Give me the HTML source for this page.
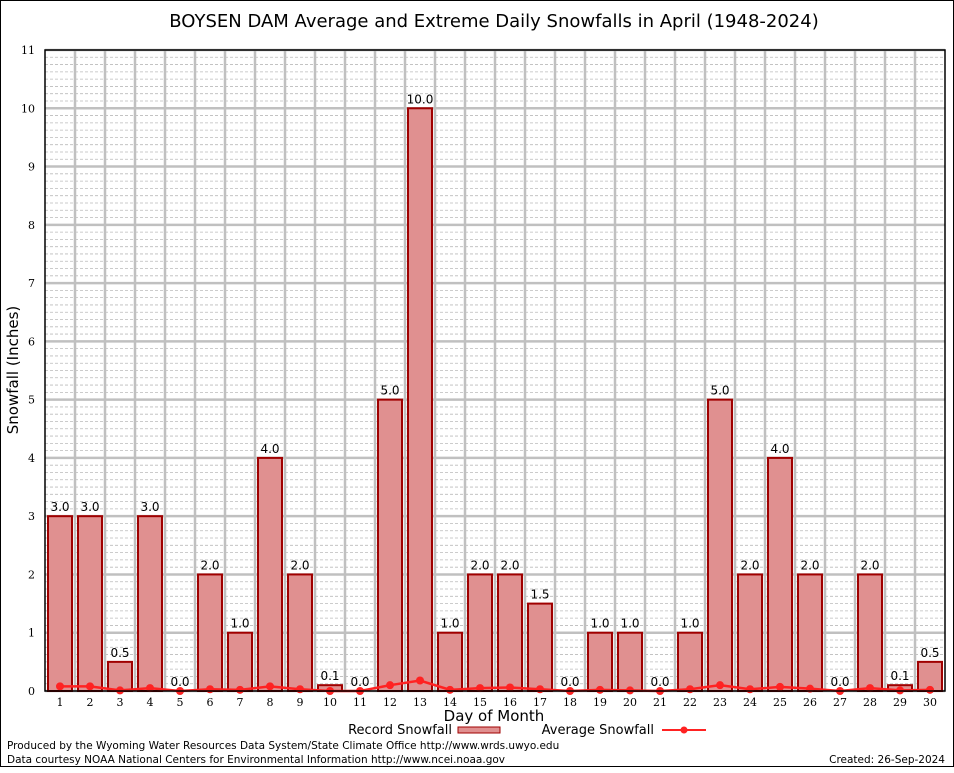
<!DOCTYPE html>
<html><head><meta charset="utf-8"><style>
body{margin:0;background:#fff}
svg text{font-family:"DejaVu Sans","Liberation Sans",sans-serif}
.tk{font-family:"DejaVu Serif","Liberation Serif",serif;font-size:11px}
</style></head><body>
<svg id="c" width="954" height="768" xmlns="http://www.w3.org/2000/svg">
<rect x="0.5" y="0.5" width="953" height="766" fill="#fff" stroke="#000"/>
<text x="494" y="27" text-anchor="middle" font-size="18">BOYSEN DAM Average and Extreme Daily Snowfalls in April (1948-2024)</text>
<g id="grid"></g>
<g id="bars"></g>
<g id="avg"></g>
<g id="axes"></g>
<text x="18" y="370" text-anchor="middle" font-size="15" transform="rotate(-90 18 370)">Snowfall (Inches)</text>
<text x="494" y="721" text-anchor="middle" font-size="15">Day of Month</text>
<g>
<text x="452" y="734" text-anchor="end" font-size="13">Record Snowfall</text>
<rect x="458" y="727" width="42" height="6" fill="#e09090" stroke="#a00000"/>
<text x="654" y="734" text-anchor="end" font-size="13">Average Snowfall</text>
<line x1="662" y1="730" x2="706" y2="730" stroke="#f22" stroke-width="2"/>
<circle cx="684" cy="730" r="3.5" fill="#f22"/>
</g>
<text x="7" y="749" font-size="10.5">Produced by the Wyoming Water Resources Data System/State Climate Office http://www.wrds.uwyo.edu</text>
<text x="7" y="763" font-size="10.5">Data courtesy NOAA National Centers for Environmental Information http://www.ncei.noaa.gov</text>
<text x="945" y="763" text-anchor="end" font-size="10.5">Created: 26-Sep-2024</text>
</svg>
<script>
const days=[1,2,3,4,5,6,7,8,9,10,11,12,13,14,15,16,17,18,19,20,21,22,23,24,25,26,27,28,29,30];
const record=[3,3,0.5,3,0,2,1,4,2,0.1,0,5,10,1,2,2,1.5,0,1,1,0,1,5,2,4,2,0,2,0.1,0.5];
const average=[0.08,0.08,0.01,0.05,0,0.03,0.02,0.08,0.03,0,0,0.1,0.18,0.02,0.05,0.06,0.03,0,0.02,0.01,0,0.03,0.1,0.03,0.07,0.04,0,0.05,0.01,0.02];
const yTicks=[0,1,2,3,4,5,6,7,8,9,10,11];
const NS="http://www.w3.org/2000/svg";
const L=45,R=945,T=50,B=691,YMAX=11;
const xs=d=>L+(d-0.5)*(R-L)/30;
const ys=v=>B-v*(B-T)/YMAX;
function mk(t,a,p){const e=document.createElementNS(NS,t);for(const k in a)e.setAttribute(k,a[k]);p.appendChild(e);return e;}
const grid=document.getElementById('grid'),bars=document.getElementById('bars'),avg=document.getElementById('avg'),axes=document.getElementById('axes');
for(let v=0;v<YMAX;v+=0.125){if(Math.abs(v-Math.round(v))<1e-6)continue;
const l=mk('line',{x1:L,x2:R,y1:ys(v),y2:ys(v),stroke:'#bbb','stroke-dasharray':'3,2','stroke-width':0.8},grid);

}
for(let i=1;i<30;i++){const x=L+i*30;
const l=mk('line',{x1:x,x2:x,y1:T,y2:B,stroke:'#c0c0c0','stroke-width':2.5},grid);

}
yTicks.forEach(v=>{
const l=mk('line',{x1:L,x2:R,y1:ys(v),y2:ys(v),stroke:'#c0c0c0','stroke-width':2.5},grid);


const t=mk('text',{x:L-10,y:ys(v)+4,'text-anchor':'end',class:'tk'},axes);t.textContent=v;

});
days.forEach((d,i)=>{const v=record[i],x=xs(d);
if(v>0){const r=mk('rect',{x:x-12,y:ys(v),width:24,height:B-ys(v),fill:'#e09090',stroke:'#a00000','stroke-width':2},bars);

}
const t=mk('text',{x:x,y:ys(v)-5,'text-anchor':'middle','font-size':12},bars);t.textContent=v.toFixed(1);


const k=mk('text',{x:x,y:B+15,'text-anchor':'middle',class:'tk'},axes);k.textContent=d;

});
const pl=mk('polyline',{points:days.map((d,i)=>xs(d)+','+ys(average[i])).join(' '),fill:'none',stroke:'#f22','stroke-width':2.5},avg);


days.forEach((d,i)=>{const c=mk('circle',{cx:xs(d),cy:ys(average[i]),r:4,fill:'#f22'},avg);

});
const fr=mk('rect',{x:L,y:T,width:R-L,height:B-T,fill:'none',stroke:'#000','stroke-width':1.5},axes);


</script>
</body></html>
